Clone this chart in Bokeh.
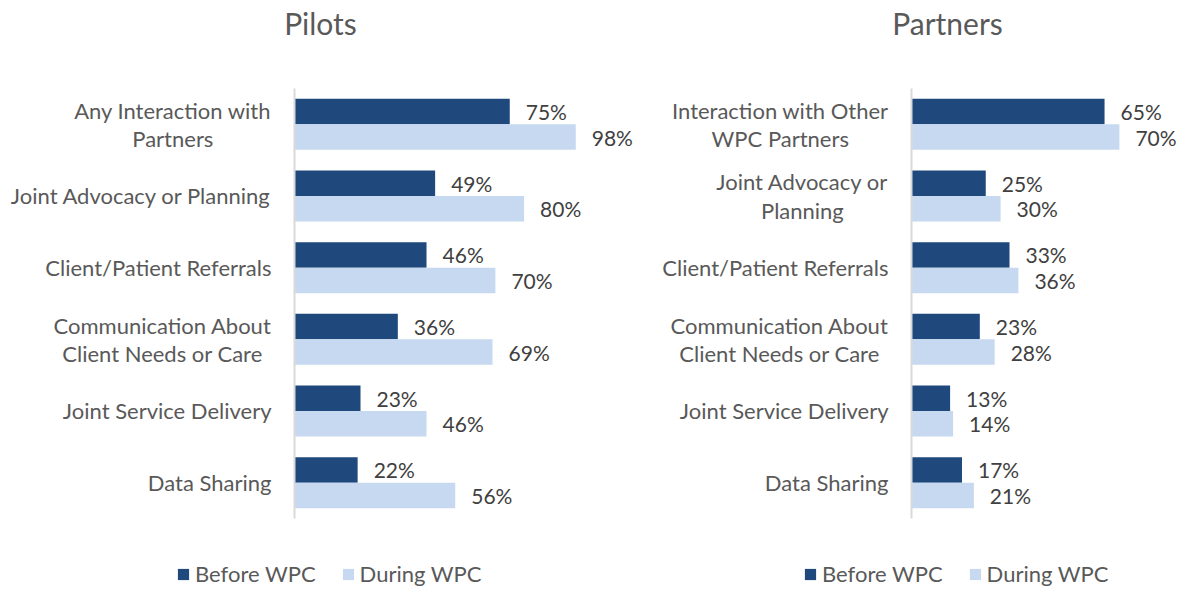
from bokeh.plotting import figure
from bokeh.layouts import row
from bokeh.models import ColumnDataSource, Legend, LegendItem, Range1d
from bokeh.core.properties import value
from bokeh.embed import file_html
from bokeh.resources import INLINE

pilot_cats = ["Any Interaction with\nPartners", "Joint Advocacy or Planning", "Client/Patient Referrals",
              "Communication About\nClient Needs or Care", "Joint Service Delivery", "Data Sharing"]
pilot_before = [75, 49, 46, 36, 23, 22]
pilot_during = [98, 80, 70, 69, 46, 56]

partner_cats = ["Interaction with Other\nWPC Partners", "Joint Advocacy or\nPlanning", "Client/Patient Referrals",
                "Communication About\nClient Needs or Care", "Joint Service Delivery", "Data Sharing"]
partner_before = [65, 25, 33, 23, 13, 17]
partner_during = [70, 30, 36, 28, 14, 21]

series_names = ["Before WPC", "During WPC"]
DARK = "#1F497D"
LIGHT = "#C6D9F1"
GREY = "#595959"
FONT = "Lato"
H = 588
ROW_PX = 71.67        # pixel height of one category slot
FIRST_ROW_PX = 123.8  # pixel centre of first category from top
OFF = 0.178
BAR_H = 0.356


def make_panel(title, cats, before, during, width, zero_px, px_per_unit, title_cx, legend_x):
    n = len(cats)
    idx = list(range(n))
    src = ColumnDataSource(dict(
        cat=cats, pos=idx,
        pos_before=[i - OFF for i in idx], pos_during=[i + OFF for i in idx],
        before=before, during=during, zero=[0] * n,
        before_lbl=[f"{v}%" for v in before], during_lbl=[f"{v}%" for v in during]))
    y_top = (0 - FIRST_ROW_PX) / ROW_PX
    y_bot = (H - FIRST_ROW_PX) / ROW_PX
    p = figure(width=width, height=H,
               x_range=Range1d(-zero_px / px_per_unit, (width - zero_px) / px_per_unit),
               y_range=Range1d(y_bot, y_top),
               x_axis_location=None, y_axis_location=None,
               output_backend="svg", toolbar_location=None,
               min_border_left=0, min_border_right=0, min_border_top=0, min_border_bottom=0)
    p.xgrid.visible = False
    p.ygrid.visible = False
    p.outline_line_color = None

    r1 = p.hbar(y="pos_before", right="before", left=0, height=BAR_H,
                source=src, fill_color=DARK, line_color=None)
    r2 = p.hbar(y="pos_during", right="during", left=0, height=BAR_H,
                source=src, fill_color=LIGHT, line_color=None)
    for col, lbl, pos in (("before", "before_lbl", "pos_before"), ("during", "during_lbl", "pos_during")):
        p.text(x=col, y=pos, text=lbl, source=src,
               x_offset=16, text_align="left", text_baseline="middle",
               text_font=value(FONT), text_font_size="21px", text_color="#404040")
    # category axis line
    p.segment(x0=[0], y0=[-0.5], x1=[0], y1=[n - 0.5], line_color="#D9D9D9", line_width=2)
    # category labels
    p.text(x="zero", y="pos", text="cat", source=src, x_offset=-23,
           anchor=value("center_right"), text_align="center", text_baseline="middle",
           text_line_height=1.05,
           text_font=value(FONT), text_font_size="22px", text_color=GREY)
    # title
    p.text(x=[(title_cx - zero_px) / px_per_unit], y=[(22 - FIRST_ROW_PX) / ROW_PX], text=[title],
           text_align="center", text_baseline="middle",
           text_font=value(FONT), text_font_size="30px", text_color=GREY)

    legend = Legend(items=[LegendItem(label=series_names[0], renderers=[r1]),
                           LegendItem(label=series_names[1], renderers=[r2])],
                    orientation="horizontal", location=(legend_x, 1),
                    glyph_width=14, glyph_height=14, label_standoff=5, spacing=25,
                    padding=0, margin=0, border_line_color=None, background_fill_alpha=0,
                    label_text_font=FONT, label_text_font_size="22px", label_text_color=GREY)
    p.add_layout(legend, "center")
    return p


p1 = make_panel("Pilots", pilot_cats, pilot_before, pilot_during,
                width=636, zero_px=294, px_per_unit=2.87, title_cx=320, legend_x=176)
p2 = make_panel("Partners", partner_cats, partner_before, partner_during,
                width=543, zero_px=275, px_per_unit=2.97, title_cx=947 - 636, legend_x=167)

layout = row(p1, p2)
open("out.html", "w").write(file_html(layout, INLINE))
